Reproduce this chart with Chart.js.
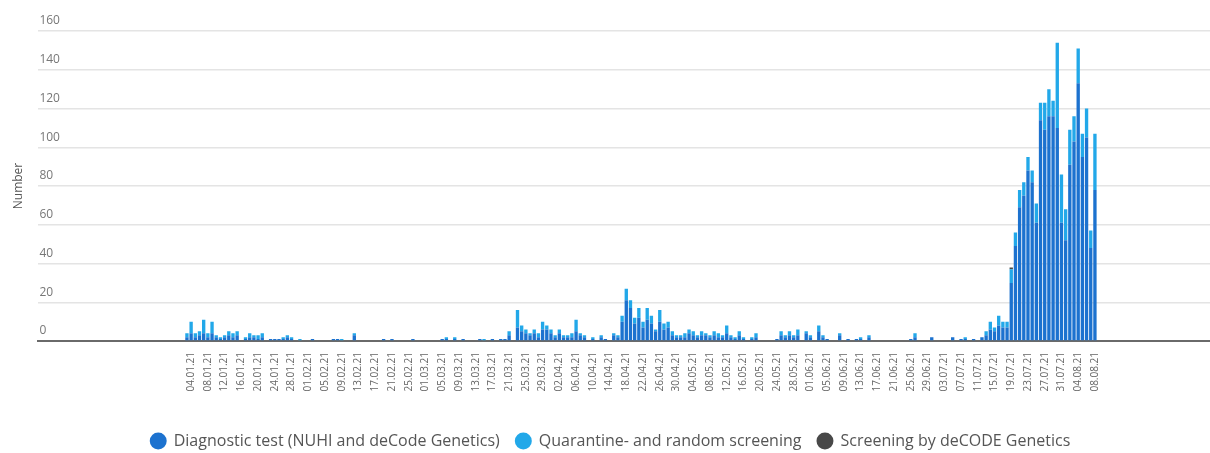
<!DOCTYPE html>
<html>
<head>
<meta charset="utf-8">
<script src="https://cdn.jsdelivr.net/npm/chart.js@4"></script>
<style>
  html, body { margin: 0; padding: 0; background: #ffffff; }
  #wrap { width: 1210px; height: 453px; position: relative; }
</style>
</head>
<body>
<div id="wrap"><canvas id="c" width="1210" height="453"></canvas></div>
<script>
// ---- data (01.01.21 .. 08.08.21, one value per day) ----
const seriesNames = [
  'Diagnostic test (NUHI and deCode Genetics)',
  'Quarantine- and random screening',
  'Screening by deCODE Genetics'
];
const diagnostic = [
  0,0,2,4,2,3,4,2,4,2,1,2,3,2,3,0,1,2,2,1,2,0,1,1,1,1,2,1,0,0,0,           // Jan
  0,1,0,0,0,0,1,1,0,0,0,3,0,0,0,0,0,0,1,0,1,0,0,0,0,1,0,0,                 // Feb
  0,0,0,0,1,1,0,1,0,1,0,0,0,1,0,0,1,0,1,1,3,0,7,5,4,3,4,2,6,6,4,           // Mar
  2,4,2,2,2,5,3,2,0,1,0,2,1,0,3,2,10,21,17,9,12,7,11,9,5,10,6,7,3,2,       // Apr
  2,2,4,3,2,3,3,2,3,2,2,4,2,1,3,1,0,1,2,0,0,0,0,1,3,2,3,2,3,0,4,           // May
  2,0,5,2,1,0,0,3,0,1,0,1,1,0,2,0,0,0,0,0,0,0,0,0,1,2,0,0,0,2,             // Jun
  0,0,0,0,2,0,1,1,0,1,0,2,3,6,5,8,7,7,30,49,69,75,88,82,61,114,109,116,116,110,61, // Jul
  52,91,103,133,95,105,48,78                                                // Aug
];
const quarantine = [
  0,0,2,6,2,2,7,2,6,1,1,1,2,2,2,0,1,2,1,2,2,0,0,0,0,1,1,1,0,1,0,
  0,0,0,0,0,0,0,0,1,0,0,1,0,0,0,0,0,0,0,0,0,0,0,0,0,0,0,0,
  0,0,0,0,0,1,0,1,0,0,0,0,0,0,1,0,0,0,0,0,2,0,9,3,2,1,2,2,4,2,2,
  1,2,1,1,2,6,1,1,0,1,0,1,0,0,1,1,3,6,4,3,5,3,6,4,1,6,3,3,2,1,
  1,2,2,2,1,2,1,1,2,2,1,4,1,1,2,1,0,1,2,0,0,0,0,0,2,1,2,1,3,0,1,
  1,0,3,1,0,0,0,1,0,0,0,0,1,0,1,0,0,0,0,0,0,0,0,0,0,2,0,0,0,0,
  0,0,0,0,0,0,0,1,0,0,0,0,2,4,2,5,3,3,7,7,9,7,7,6,10,9,14,14,8,44,25,
  16,18,13,18,12,15,9,29
];
const screening = [
  0,0,0,0,0,0,0,0,0,0,0,0,0,0,0,0,0,0,0,0,0,0,0,0,0,0,0,0,0,0,0,
  0,0,0,0,0,0,0,0,0,0,0,0,0,0,0,0,0,0,0,0,0,0,0,0,0,0,0,0,
  0,0,0,0,0,0,0,0,0,0,0,0,0,0,0,0,0,0,0,0,0,0,0,0,0,0,0,0,0,0,0,
  0,0,0,0,0,0,0,0,0,0,0,0,0,0,0,0,0,0,0,0,0,0,0,0,0,0,0,0,0,0,
  0,0,0,0,0,0,0,0,0,0,0,0,0,0,0,0,0,0,0,0,0,0,0,0,0,0,0,0,0,0,0,
  0,0,0,0,0,0,0,0,0,0,0,0,0,0,0,0,0,0,0,0,0,0,0,0,0,0,0,0,0,0,
  0,0,0,0,0,0,0,0,0,0,0,0,0,0,0,0,0,0,1,0,0,0,0,0,0,0,0,0,0,0,0,
  0,0,0,0,0,0,0,0
];
const yTicks = [0, 20, 40, 60, 80, 100, 120, 140, 160];
const yTitle = 'Number';
// axis runs from 29.11.20 to 04.09.21; data from 01.01.21 to 08.08.21
const axisStart = [2020, 10, 29];
const padBefore = 33, padAfter = 27;
const firstTickDay = 3;   // 04.01.21 (index inside data)
const tickEvery = 4;

// ---- build categories ----
const total = padBefore + diagnostic.length + padAfter;
const categories = [];
for (let i = 0; i < total; i++) {
  const d = new Date(axisStart[0], axisStart[1], axisStart[2] + i);
  const dd = String(d.getDate()).padStart(2, '0');
  const mm = String(d.getMonth() + 1).padStart(2, '0');
  const yy = String(d.getFullYear()).slice(2);
  categories.push(dd + '.' + mm + '.' + yy);
}
const pad = arr => Array(padBefore).fill(null).concat(arr, Array(padAfter).fill(null));

const FONT = "'Open Sans', 'Noto Sans', sans-serif";
const colors = ['#1c72cf', '#22a8e9', '#484848'];

new Chart(document.getElementById('c'), {
  type: 'bar',
  data: {
    labels: categories,
    datasets: [
      { label: seriesNames[0], data: pad(diagnostic), backgroundColor: colors[0] },
      { label: seriesNames[1], data: pad(quarantine), backgroundColor: colors[1] },
      { label: seriesNames[2], data: pad(screening), backgroundColor: colors[2] }
    ]
  },
  options: {
    responsive: false,
    animation: false,
    layout: { padding: { left: 11, right: 0, top: 31, bottom: -6 } },
    datasets: { bar: { barPercentage: 0.8, categoryPercentage: 1.0, borderWidth: 0 } },
    plugins: {
      tooltip: { enabled: false },
      legend: {
        position: 'bottom',
        labels: {
          usePointStyle: true,
          pointStyle: 'circle',
          boxWidth: 15,
          boxHeight: 12,
          padding: 16,
          color: '#555',
          font: { family: FONT, size: 16 }
        }
      }
    },
    scales: {
      x: {
        stacked: true,
        offset: true,
        grid: { display: false },
        border: { display: true, color: '#6a6a6a', width: 2 },
        afterFit: s => { s.paddingLeft = 0; s.paddingRight = 0; s.height = 76; },
        ticks: {
          autoSkip: false,
          maxRotation: 90,
          minRotation: 90,
          padding: 3,
          color: '#666',
          font: { family: FONT, size: 10 },
          callback: function (v, i) {
            const k = i - padBefore;
            if (k >= firstTickDay && k < diagnostic.length && (k - firstTickDay) % tickEvery === 0) {
              return categories[i];
            }
            return '';
          }
        }
      },
      y: {
        stacked: true,
        min: yTicks[0],
        max: yTicks[yTicks.length - 1],
        afterBuildTicks: axis => { axis.ticks = yTicks.map(v => ({ value: v })); },
        border: { display: false },
        grid: {
          drawTicks: false,
          lineWidth: 1.5,
          color: ctx => ctx.tick && ctx.tick.value === 0 ? 'rgba(0,0,0,0)' : '#e4e4e4'
        },
        ticks: {
          mirror: true,
          padding: 1,
          labelOffset: -10,
          color: '#777',
          font: { family: FONT, size: 12 }
        },
        title: {
          display: true,
          text: yTitle,
          color: '#555',
          font: { family: FONT, size: 12 },
          padding: { top: 0, bottom: 11 }
        }
      }
    }
  }
});
</script>
</body>
</html>
